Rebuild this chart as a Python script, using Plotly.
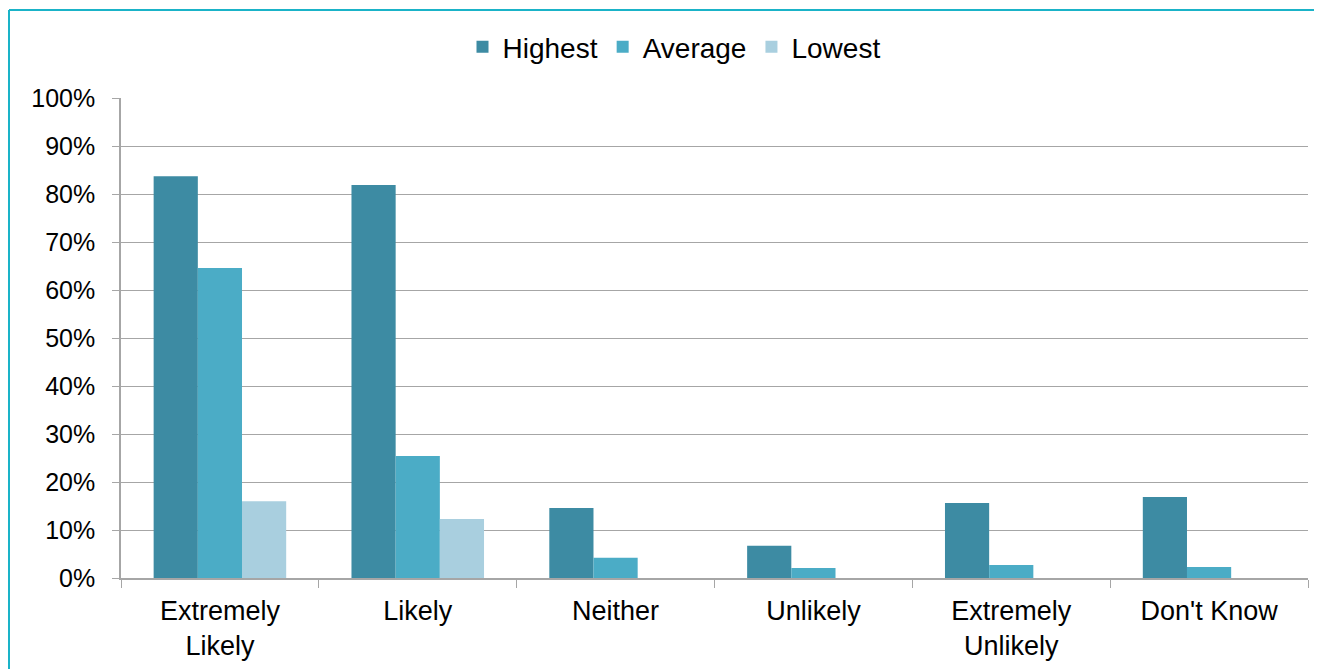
import plotly.graph_objects as go

categories = ["Extremely<br>Likely", "Likely", "Neither", "Unlikely", "Extremely<br>Unlikely", "Don't Know"]
highest = [83.7, 81.9, 14.6, 6.7, 15.6, 16.9]
average = [64.6, 25.4, 4.2, 2.1, 2.7, 2.3]
lowest = [16.0, 12.3, 0, 0, 0, 0]
tick_vals = [0, 10, 20, 30, 40, 50, 60, 70, 80, 90, 100]
tick_text = [f"{v}%" for v in tick_vals]

colors = {"Highest": "#3D8BA3", "Average": "#4BACC6", "Lowest": "#A9CFDF"}

fig = go.Figure()
for name, vals in [("Highest", highest), ("Average", average), ("Lowest", lowest)]:
    fig.add_trace(go.Bar(x=categories, y=vals, name=name,
                         marker=dict(color=colors[name], line=dict(width=0))))

# page has an 8px body margin, so figure coords = page coords - 8
W, H = 1314, 661
L, R, T, B = 113, 14, 90, 91
pw = W - L - R
ph = H - T - B

FONT = "Liberation Sans, Arial, sans-serif"
fig.update_layout(
    width=W, height=H,
    margin=dict(l=L, r=R, t=T, b=B, autoexpand=False),
    paper_bgcolor="white", plot_bgcolor="white",
    font=dict(family=FONT, size=27, color="#000000"),
    barmode="group", bargap=0.33, bargroupgap=0,
    legend=dict(orientation="h", x=(666 - L) / pw, xanchor="center",
                y=(H - B - 39) / ph, yanchor="middle",
                font=dict(size=28), traceorder="normal"),
    xaxis=dict(showline=True, linecolor="#A6A6A6", linewidth=1.5,
               ticks="outside", tickson="boundaries", ticklen=8, tickcolor="#A6A6A6",
               showgrid=False, tickfont=dict(size=27), ticklabelstandoff=8),
    yaxis=dict(range=[0, 100], tickvals=tick_vals, ticktext=tick_text,
               showline=True, linecolor="#A6A6A6", linewidth=1.5,
               ticks="outside", ticklen=7, tickcolor="#A6A6A6",
               showgrid=True, gridcolor="#A6A6A6", gridwidth=1.2,
               zeroline=False, tickfont=dict(size=25), ticklabelstandoff=12),
)

# cyan frame (top and left edges visible)
bx = (1 - L) / pw
by = (H - B - 2) / ph
fig.add_shape(type="line", xref="paper", yref="paper", x0=bx, x1=(W - L) / pw + 0.02, y0=by, y1=by,
              line=dict(color="#1AB3C8", width=2))
fig.add_shape(type="line", xref="paper", yref="paper", x0=bx, x1=bx, y0=by, y1=-B / ph - 0.05,
              line=dict(color="#1AB3C8", width=2))

fig.write_html("out.html")
